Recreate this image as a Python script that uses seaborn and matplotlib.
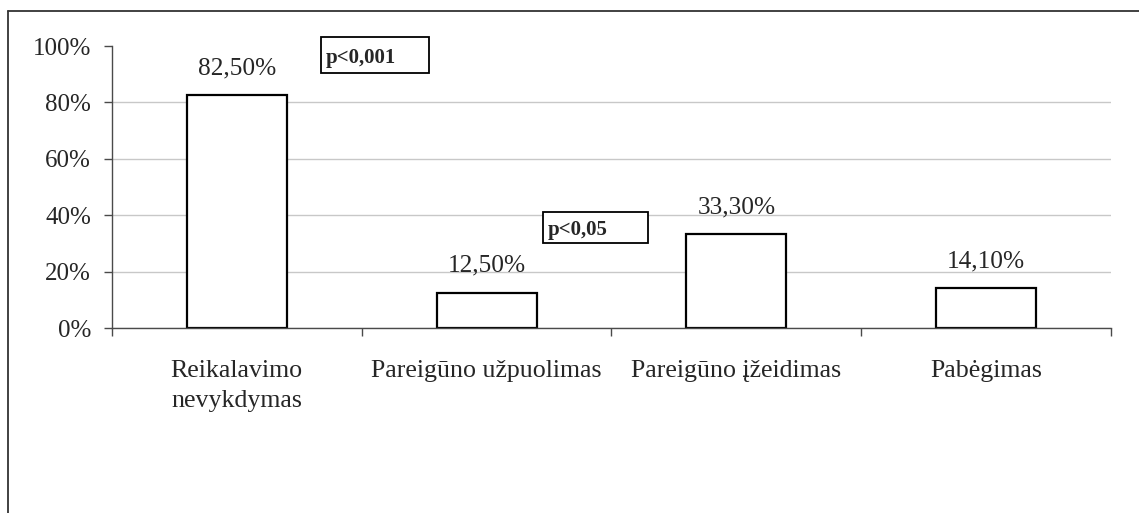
import matplotlib
matplotlib.use("Agg")
import matplotlib.pyplot as plt
import seaborn as sns
import pandas as pd
from matplotlib.lines import Line2D
from matplotlib.patches import Rectangle
from matplotlib.ticker import FixedLocator

# duomenys
categories = ["Reikalavimo\nnevykdymas", "Pareigūno užpuolimas",
              "Pareigūno įžeidimas", "Pabėgimas"]
values = [82.5, 12.5, 33.3, 14.1]
y_ticks = [0, 20, 40, 60, 80, 100]
p_labels = ["p<0,001", "p<0,05"]

sns.set_style("white")
plt.rcParams['font.family'] = ['Liberation Serif', 'DejaVu Serif']

df = pd.DataFrame({'cat': categories, 'val': values})

fig = plt.figure(figsize=(11.39, 5.13), dpi=100)
ax = fig.add_axes([0.0983, 0.3606, 0.8771, 0.5497])

sns.barplot(data=df, x='cat', y='val', ax=ax, color='white', saturation=1,
            edgecolor='black', linewidth=1.6, width=0.4)

ax.set_xlim(-0.5, len(categories) - 0.5)
ax.set_ylim(0, 100)
ax.set_yticks(y_ticks)
ax.set_yticklabels([f"{t}%" for t in y_ticks])
ax.set_xlabel('')
ax.set_ylabel('')

# tinklelis
ax.yaxis.grid(True, color='#c8c8c8', linewidth=1.0)
ax.get_ygridlines()[-1].set_visible(False)
ax.set_axisbelow(True)

for s in ['top', 'right']:
    ax.spines[s].set_visible(False)
for s in ['left', 'bottom']:
    ax.spines[s].set_color('#4a4a4a')
    ax.spines[s].set_linewidth(1.0)

ax.tick_params(axis='y', direction='out', length=6, width=1, color='#4a4a4a',
               pad=9, labelsize=18, left=True)
ax.tick_params(axis='x', which='major', length=0, pad=23, labelsize=18.6)
for lab in ax.get_xticklabels():
    lab.set_linespacing(1.45)
ax.xaxis.set_minor_locator(FixedLocator([i - 0.5 for i in range(len(categories) + 1)]))
ax.tick_params(axis='x', which='minor', direction='out', length=6, width=1,
               color='#4a4a4a', bottom=True)

# reikšmės virš stulpelių
for i, v in enumerate(values):
    ax.annotate(f"{v:.2f}%".replace('.', ','), (i, v), xytext=(0, 15),
                textcoords='offset points', ha='center', va='baseline', fontsize=18.3)

# p reikšmių langeliai
boxes = [(0.336, 90.4, 0.432, 12.8), (1.224, 30.1, 0.424, 11.0)]
for (x0, y0, w, h), lab in zip(boxes, p_labels):
    ax.add_patch(Rectangle((x0, y0), w, h, facecolor='white', edgecolor='black',
                           linewidth=1.3, clip_on=False, zorder=5))
    ax.text(x0 + 0.02, y0 + h * 0.42, lab, fontsize=15, fontweight='bold',
            ha='left', va='center', zorder=6, clip_on=False)

# išorinis rėmelis
fig.add_artist(Line2D([0.007, 0.007], [0.0, 0.9786], color='#333333', linewidth=1.3))
fig.add_artist(Line2D([0.007, 1.0], [0.9786, 0.9786], color='#333333', linewidth=1.3))

plt.savefig('out.png', dpi=100)
